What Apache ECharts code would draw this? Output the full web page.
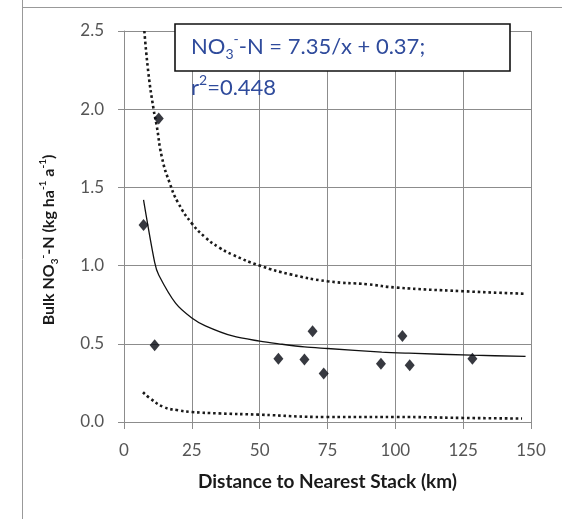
<!DOCTYPE html>
<html><head><meta charset="utf-8">
<script src="https://cdn.jsdelivr.net/npm/echarts@6/dist/echarts.min.js"></script>
<style>html,body{margin:0;padding:0;background:#fff;}#c{width:562px;height:519px;}</style>
</head><body><div id="c"></div>
<script>
// Observed data (distance km, bulk NO3-N)
const pointsX = [7.2, 11.3, 12.8, 56.9, 66.5, 69.5, 73.6, 94.7, 102.6, 105.3, 128.4];
const pointsY = [1.26, 0.49, 1.94, 0.405, 0.40, 0.58, 0.31, 0.373, 0.55, 0.363, 0.405];
// Fitted curve
const fitX = [7.2, 11.3, 12.8, 19, 25, 30, 40, 50, 57, 66.5, 75, 95, 105, 128, 148];
const fitY = [1.42, 1.02, 0.94, 0.76, 0.665, 0.615, 0.55, 0.517, 0.50, 0.48, 0.47, 0.447, 0.44, 0.427, 0.42];
// Upper band (dotted)
const upX = [7.5, 9, 10.9, 12, 14, 16.8, 20, 25, 30, 35, 40, 50, 61.4, 75, 90, 100, 125, 148];
const upY = [2.5, 2.23, 2.0, 1.9, 1.69, 1.53, 1.40, 1.27, 1.18, 1.116, 1.07, 1.0, 0.944, 0.90, 0.88, 0.86, 0.836, 0.82];
// Lower band (dotted)
const loX = [7.0, 9.7, 14.6, 20, 25, 35, 49.6, 74.8, 100, 125, 146.7];
const loY = [0.19, 0.15, 0.096, 0.075, 0.064, 0.055, 0.047, 0.032, 0.032, 0.026, 0.022];
const xTicks = [0, 25, 50, 75, 100, 125, 150];
const yTicks = [0.0, 0.5, 1.0, 1.5, 2.0, 2.5];

const zip = (a, b) => a.map((v, i) => [v, b[i]]);
const FONT = 'Lato';
const chart = echarts.init(document.getElementById('c'), null, {renderer: 'canvas'});
const gridCol = '#8c8c8c';
const dotted = {color: '#1a1a1a', width: 2.6, type: [2.6, 2.8], cap: 'butt'};
chart.setOption({
  animation: false,
  backgroundColor: '#fff',
  grid: {left: 124, right: 31, top: 31, bottom: 97, containLabel: false},
  xAxis: {
    type: 'value', min: 0, max: 150, interval: 25,
    name: 'Distance to Nearest Stack (km)', nameLocation: 'middle', nameGap: 50,
    nameTextStyle: {fontFamily: FONT, fontWeight: 'bold', fontSize: 19, color: '#1a1a1a'},
    axisLine: {lineStyle: {color: gridCol}},
    axisTick: {show: true, length: 7, lineStyle: {color: gridCol}},
    axisLabel: {fontFamily: FONT, fontSize: 17, color: '#555', margin: 20,
      formatter: v => xTicks.includes(v) ? String(v) : ''},
    splitLine: {show: true, lineStyle: {color: gridCol, width: 1}}
  },
  yAxis: {
    type: 'value', min: 0, max: 2.5, interval: 0.5,
    axisLine: {show: true, lineStyle: {color: gridCol}},
    axisTick: {show: true, length: 6, lineStyle: {color: gridCol}},
    axisLabel: {fontFamily: FONT, fontSize: 17, color: '#555', margin: 20,
      formatter: v => yTicks.some(t => Math.abs(t - v) < 1e-9) ? v.toFixed(1) : ''},
    splitLine: {show: true, lineStyle: {color: gridCol, width: 1}}
  },
  series: [
    {type: 'line', data: zip(upX, upY), showSymbol: false, smooth: true, clip: true,
      lineStyle: dotted, z: 3},
    {type: 'line', data: zip(loX, loY), showSymbol: false, smooth: true, clip: true,
      lineStyle: dotted, z: 3},
    {type: 'line', data: zip(fitX, fitY), showSymbol: false, smooth: 0.3,
      lineStyle: {color: '#111', width: 1.3}, z: 3},
    {type: 'scatter', data: zip(pointsX, pointsY), symbol: 'diamond', symbolSize: [10, 12],
      itemStyle: {color: '#050810'}, z: 5}
  ],
  graphic: [
    {type: 'line', shape: {x1: 22.5, y1: 0, x2: 22.5, y2: 519}, style: {stroke: '#999', lineWidth: 1}, z: 1},
    {type: 'line', shape: {x1: 22, y1: 7.5, x2: 562, y2: 7.5}, style: {stroke: '#999', lineWidth: 1}, z: 1},
    {type: 'text', x: 49, y: 240, rotation: Math.PI / 2, z: 11,
      style: {
        text: '{n|Bulk NO}{sub|3}{sup|-}{n|-N (kg ha}{sup|-1}{n| a}{sup|-1}{n|)}',
        align: 'center', verticalAlign: 'middle',
        rich: {
          n: {fontFamily: FONT, fontWeight: 'bold', fontSize: 16, fill: '#1a1a1a', lineHeight: 22},
          sub: {fontFamily: FONT, fontWeight: 'bold', fontSize: 10, fill: '#1a1a1a', verticalAlign: 'bottom', lineHeight: 22},
          sup: {fontFamily: FONT, fontWeight: 'bold', fontSize: 10, fill: '#1a1a1a', verticalAlign: 'top', lineHeight: 22}
        }
      }},
    {type: 'rect', shape: {x: 175, y: 24, width: 335, height: 47},
      style: {fill: '#fff', stroke: '#111', lineWidth: 1.6}, z: 10},
    {type: 'text', left: 191, top: 32, z: 11,
      style: {
        text: '{n|NO}{sub|3}{sup|-}{n|-N = 7.35/x + 0.37;}',
        rich: {
          n: {fontFamily: FONT, fontSize: 22, fill: '#2f4b9c', lineHeight: 29},
          sub: {fontFamily: FONT, fontSize: 14, fill: '#2f4b9c', verticalAlign: 'bottom', lineHeight: 29},
          sup: {fontFamily: FONT, fontSize: 14, fill: '#2f4b9c', verticalAlign: 'top', lineHeight: 29}
        }
      }},
    {type: 'text', left: 191, top: 73, z: 11,
      style: {
        text: '{n|r}{sup|2}{n|=0.448}',
        rich: {
          n: {fontFamily: FONT, fontSize: 22, fill: '#2f4b9c', lineHeight: 29},
          sup: {fontFamily: FONT, fontSize: 14, fill: '#2f4b9c', verticalAlign: 'top', lineHeight: 29}
        }
      }}
  ]
});
</script></body></html>
